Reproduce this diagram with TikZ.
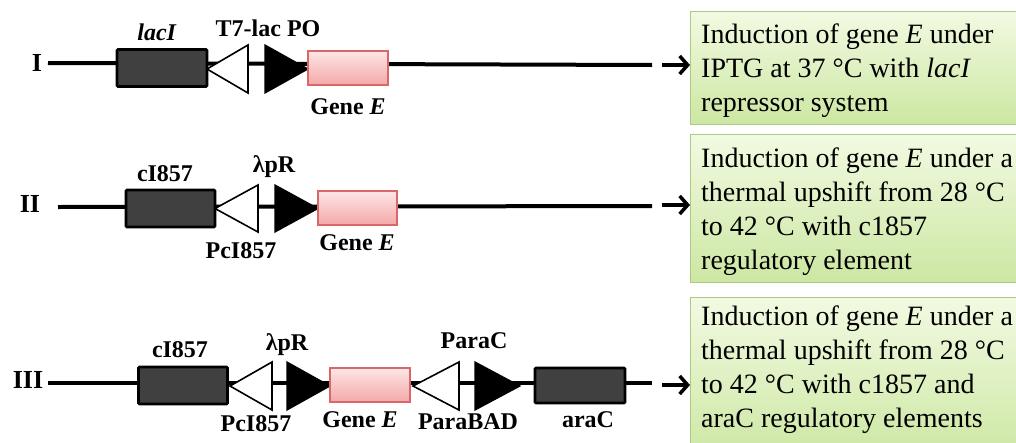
\documentclass[tikz,border=0pt]{standalone}
\usepackage{fontspec}
\setmainfont{Liberation Serif}
\usetikzlibrary{arrows.meta}
\definecolor{darkfill}{HTML}{404040}
\definecolor{geneborder}{HTML}{D9676A}
\definecolor{genetop}{HTML}{FDE6E6}
\definecolor{genebot}{HTML}{F4A8A8}
\definecolor{gborder}{HTML}{A9CB82}
\definecolor{gtop}{HTML}{F2FAE2}
\definecolor{gbot}{HTML}{CCE7A2}
\tikzset{
  dnabone/.style={line width=4pt, black},
  dbox/.style={draw=black, line width=2.6pt, fill=darkfill, rounded corners=1pt, inner sep=0pt, minimum height=37pt},
  genebox/.style={draw=geneborder, line width=1.2pt, top color=genetop, bottom color=genebot, inner sep=0pt, minimum height=34pt},
  wtri/.style={draw=black, fill=white, line width=1.6pt, line join=miter},
  btri/.style={draw=black, fill=black, line width=1.2pt},
  lbl/.style={font=\fontsize{24}{28}\selectfont\bfseries, anchor=base, inner sep=0pt},
  rom/.style={font=\fontsize{26}{30}\selectfont\bfseries, anchor=base, inner sep=0pt},
  gbox/.style={draw=gborder, line width=1pt, top color=gtop, bottom color=gbot, inner sep=0pt},
  gtext/.style={font=\fontsize{28}{33.8}\selectfont, align=left, anchor=north west, inner sep=0pt},
  arr/.style={line width=3.5pt, -{Straight Barb[length=8pt,width=18pt]}},
}
\begin{document}
\begin{tikzpicture}[x=1pt,y=-1pt]
\useasboundingbox (0,0) rectangle (1016,442);
\begin{scope}
\clip (0,0) rectangle (1016,442);
% green result boxes
\path[gbox] (690,11) rectangle (1022,124);
\node[inner sep=0pt, minimum width=332pt, minimum height=113pt, anchor=north west] (b1) at (690,11) {};
\path[gbox] (690,134) rectangle (1022,282);
\node[inner sep=0pt, minimum width=332pt, minimum height=148pt, anchor=north west] (b2) at (690,134) {};
\path[gbox] (690,297) rectangle (1022,460);
\node[inner sep=0pt, minimum width=332pt, minimum height=163pt, anchor=north west] (b3) at (690,297) {};
\end{scope}
\node[gtext] (t1) at (701,24) {Induction of gene \textit{E} under\\IPTG at 37 °C with \textit{lacI}\\repressor system};
\node[gtext] (t2) at (701,148) {Induction of gene \textit{E} under a\\thermal upshift from 28 °C\\to 42 °C with c1857\\regulatory element};
\node[gtext] (t3) at (701,306) {Induction of gene \textit{E} under a\\thermal upshift from 28 °C\\to 42 °C with c1857 and\\araC regulatory elements};

% ---------- Row I ----------
\node[rom] (rI) at (37,71) {I};
\coordinate (sI) at (48,63);
\coordinate (eI) at (652,65);
\draw[dnabone] (sI) -- (eI);
\node[dbox, minimum width=90pt] (lacI) at (162,68) {};
\draw[wtri] (207,69) -- (248,45) -- (248,93) -- cycle;
\draw[btri] (265,45) -- (308,69) -- (265,93) -- cycle;
\node[genebox, minimum width=80pt] (gI) at (348,68) {};
\node[lbl] at (157,40) {\textit{lacI}};
\node[lbl] at (268,36) {T7-lac PO};
\node[lbl] at (348,114) {Gene \textit{E}};
\coordinate (aI) at (662,65);
\draw[arr] (aI) -- (b1.west |- aI);

% ---------- Row II ----------
\node[rom] (rII) at (30,212) {II};
\coordinate (sII) at (58,207);
\coordinate (eII) at (652,206);
\draw[dnabone] (sII) -- (eII);
\node[dbox, minimum width=89pt] (cII) at (170.5,208.5) {};
\draw[wtri] (215,208.5) -- (258,185) -- (258,232) -- cycle;
\draw[btri] (275,185) -- (318,208.5) -- (275,232) -- cycle;
\node[genebox, minimum width=79pt] (gII) at (357.5,208) {};
\node[lbl] at (165,181) {cI857};
\node[lbl] at (274,172) {λpR};
\node[lbl] at (241,258) {PcI857};
\node[lbl] at (357,250) {Gene \textit{E}};
\coordinate (aII) at (662,205);
\draw[arr] (aII) -- (b2.west |- aII);

% ---------- Row III ----------
\node[rom] (rIII) at (28,388) {III};
\coordinate (sIII) at (48,383);
\coordinate (eIII) at (652,383);
\draw[dnabone] (sIII) -- (eIII);
\node[dbox, minimum width=89pt] (cIII) at (183,385.5) {};
\draw[wtri] (230,386) -- (272,362) -- (272,410) -- cycle;
\draw[btri] (287,362) -- (330,386) -- (287,410) -- cycle;
\node[genebox, minimum width=80pt] (gIII) at (370,385) {};
\draw[wtri] (413,386) -- (459,362) -- (459,410) -- cycle;
\draw[btri] (475,362) -- (520,386) -- (475,410) -- cycle;
\node[dbox, minimum width=90pt, minimum height=35pt] (araC) at (580,385.5) {};
\node[lbl] at (180,357) {cI857};
\node[lbl] at (287,350) {λpR};
\node[lbl] at (256,431) {PcI857};
\node[lbl] at (360,427) {Gene \textit{E}};
\node[lbl] at (474,348) {ParaC};
\node[lbl] at (468,429) {ParaBAD};
\node[lbl] at (588,427) {araC};
\coordinate (aIII) at (662,385);
\draw[arr] (aIII) -- (b3.west |- aIII);
\end{tikzpicture}
\end{document}
